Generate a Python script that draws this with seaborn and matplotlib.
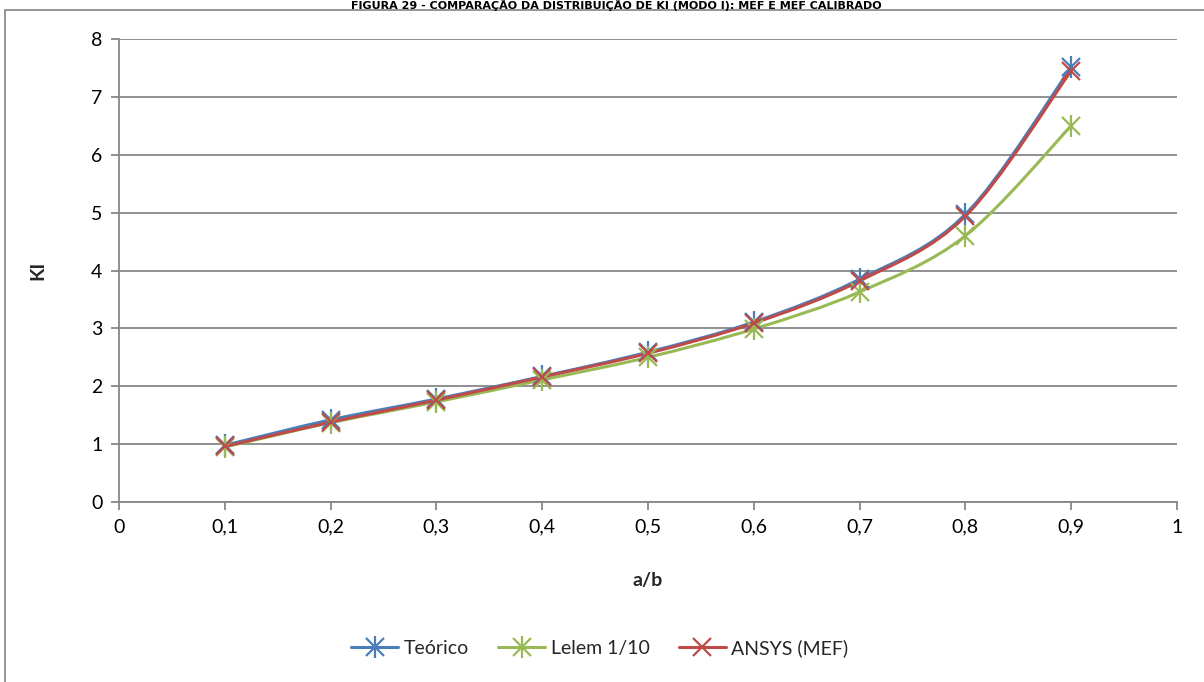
import numpy as np
import pandas as pd
import seaborn as sns
import matplotlib
matplotlib.use("Agg")
import matplotlib.pyplot as plt
from matplotlib.path import Path
from matplotlib.patches import PathPatch, Rectangle
from matplotlib.lines import Line2D
from matplotlib.legend_handler import HandlerTuple
from matplotlib.ticker import MultipleLocator, FuncFormatter

# KI values for each crack ratio a/b
a_b = [0.1, 0.2, 0.3, 0.4, 0.5, 0.6, 0.7, 0.8, 0.9]
teorico = [0.98, 1.42, 1.78, 2.17, 2.59, 3.11, 3.85, 4.97, 7.51]
lelem = [0.95, 1.37, 1.73, 2.11, 2.50, 2.99, 3.63, 4.60, 6.50]
ansys = [0.96, 1.38, 1.76, 2.16, 2.57, 3.09, 3.82, 4.94, 7.45]

series_names = ["Teórico", "Lelem 1/10", "ANSYS (MEF)"]
series_values = [teorico, lelem, ansys]
series_colors = ["#4A7EBB", "#98B954", "#BE4B48"]
series_star = [True, True, False]

title_text = "FIGURA 29 - COMPARAÇÃO DA DISTRIBUIÇÃO DE KI (MODO I): MEF E MEF CALIBRADO"
x_label = "a/b"
y_label = "KI"

sns.set_theme(style="white")
plt.rcParams["font.family"] = ["Lato", "DejaVu Sans"]

W, H = 1204, 682
fig = plt.figure(figsize=(W / 100, H / 100), dpi=100)
ax = fig.add_axes([119 / W, 1 - 502 / H, (1177 - 119) / W, (502 - 39) / H])

grid_color = "#878787"
FS = 14


def smooth_path(xs, ys):
    """Cubic Bezier path through the points (Catmull-Rom style smoothing)."""
    pts = np.column_stack([xs, ys]).astype(float)
    n = len(pts)
    verts = [pts[0]]
    codes = [Path.MOVETO]
    for i in range(n - 1):
        p0 = pts[i - 1] if i > 0 else pts[i]
        p1 = pts[i]
        p2 = pts[i + 1]
        p3 = pts[i + 2] if i + 2 < n else pts[i + 1]
        c1 = p1 + (p2 - p0) / 6.0
        c2 = p2 - (p3 - p1) / 6.0
        verts += [c1, c2, p2]
        codes += [Path.CURVE4] * 3
    return Path(verts, codes)


handles = []
for name, vals, col, star in zip(series_names, series_values, series_colors, series_star):
    df = pd.DataFrame({"a_b": a_b, "KI": vals})
    patch = PathPatch(smooth_path(df["a_b"], df["KI"]), facecolor="none",
                      edgecolor=col, lw=2.2, capstyle="round", joinstyle="round", zorder=3)
    ax.add_patch(patch)
    sns.lineplot(data=df, x="a_b", y="KI", ax=ax, color=col, linestyle="none",
                 marker="x", markersize=13, markeredgewidth=1.6,
                 markeredgecolor=col, zorder=4)
    line_h = Line2D([], [], color=col, lw=2.2, marker="x", markersize=13,
                    markeredgewidth=1.6, markeredgecolor=col)
    if star:
        sns.lineplot(data=df, x="a_b", y="KI", ax=ax, color=col, linestyle="none",
                     marker="|", markersize=16, markeredgewidth=1.6,
                     markeredgecolor=col, zorder=4)
        bar_h = Line2D([], [], color=col, lw=0, marker="|", markersize=16,
                       markeredgewidth=1.6, markeredgecolor=col)
        handles.append((line_h, bar_h))
    else:
        handles.append(line_h)

ax.set_xlim(0, 1)
ax.set_ylim(0, 8)
ax.xaxis.set_major_locator(MultipleLocator(0.1))
ax.yaxis.set_major_locator(MultipleLocator(1))


def fmt_x(v, pos):
    if abs(v - round(v)) < 1e-9:
        return f"{int(round(v))}"
    return f"{v:.1f}".replace(".", ",")


ax.xaxis.set_major_formatter(FuncFormatter(fmt_x))
ax.yaxis.set_major_formatter(FuncFormatter(lambda v, p: f"{int(round(v))}"))

ax.grid(axis="y", color=grid_color, lw=1.3)
ax.grid(axis="x", visible=False)
for side in ["top", "right"]:
    ax.spines[side].set_visible(False)
for side in ["left", "bottom"]:
    ax.spines[side].set_color(grid_color)
    ax.spines[side].set_linewidth(1.3)

ax.tick_params(axis="both", which="major", direction="out", length=6, width=1.3,
               color=grid_color, labelsize=FS, labelcolor="black", pad=6)
ax.tick_params(axis="x", bottom=True)
ax.tick_params(axis="y", left=True)

ax.set_xlabel(x_label, fontsize=FS, fontweight="bold", labelpad=26)
ax.set_ylabel(y_label, fontsize=FS, fontweight="bold", labelpad=32)

fig.legend(handles, series_names, loc="center", bbox_to_anchor=(600 / W, 1 - 648 / H),
           ncol=3, frameon=False, fontsize=FS, handlelength=2.4, handletextpad=0.3,
           columnspacing=1.5, handler_map={tuple: HandlerTuple(ndivide=1)})

# Chart border and caption strip along the top edge
fig.patches.append(Rectangle((5 / W, -0.2), 1.2, 1.2 - 10 / H, transform=fig.transFigure,
                             facecolor="none", edgecolor="#8c8c8c", lw=1.3, zorder=0))
fig.text(616 / W, 1 - 9 / H, title_text, ha="center", va="baseline",
         fontsize=8, fontweight="bold", color="black", family="DejaVu Sans")

fig.savefig("out.png", dpi=100)
